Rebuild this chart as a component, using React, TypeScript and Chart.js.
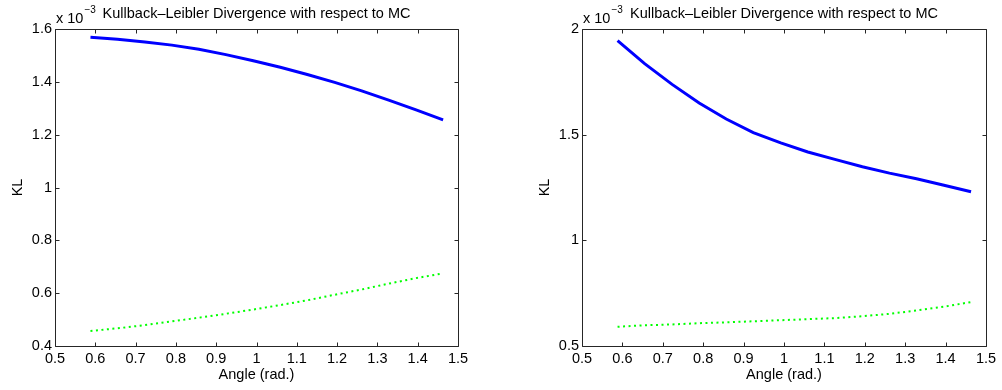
import React, { useEffect, useRef } from "react";
import { Chart, registerables } from "chart.js";

Chart.register(...registerables);

const angles = [0.588, 0.655, 0.723, 0.79, 0.857, 0.924, 0.992, 1.059, 1.126, 1.194, 1.261, 1.328, 1.396, 1.463];

const leftSolid = [1.569, 1.561, 1.551, 1.539, 1.523, 1.503, 1.48, 1.455, 1.428, 1.398, 1.366, 1.331, 1.294, 1.256];
const leftDotted = [0.457, 0.467, 0.479, 0.493, 0.507, 0.522, 0.538, 0.555, 0.573, 0.594, 0.614, 0.636, 0.657, 0.675];

const rightSolid = [1.945, 1.836, 1.738, 1.65, 1.574, 1.51, 1.461, 1.418, 1.383, 1.348, 1.318, 1.291, 1.261, 1.23];
const rightDotted = [0.591, 0.598, 0.602, 0.608, 0.612, 0.617, 0.622, 0.627, 0.632, 0.641, 0.652, 0.668, 0.686, 0.708];

const titleText = "Kullback\u2013Leibler Divergence with respect to MC";
const exponentBase = "x 10";
const exponentPower = "\u22123";
const xTitle = "Angle (rad.)";
const yTitle = "KL";

const FONT = "'Liberation Sans', Arial, Helvetica, sans-serif";
const FS = 14.5;

type PanelProps = {
  solid: number[];
  dotted: number[];
  yMin: number;
  yMax: number;
  yStep: number;
  yAxisWidth: number;
  rightPad: number;
  yTitlePad: number;
};

const fmt = (v: number | string) => {
  const n = Number(v);
  return String(Number(n.toFixed(2)));
};

function Panel(p: PanelProps) {
  const ref = useRef<HTMLCanvasElement | null>(null);
  useEffect(() => {
    if (!ref.current) return;
    const framePlugin = {
      id: "matlabFrame",
      afterDraw(chart: any) {
        const ctx = chart.ctx;
        const a = chart.chartArea;
        const xs = chart.scales.x;
        const ys = chart.scales.y;
        ctx.save();
        ctx.strokeStyle = "#262626";
        ctx.lineWidth = 1;
        ctx.beginPath();
        const L = Math.round(a.left) + 0.5;
        const R = Math.round(a.right) + 0.5;
        const T = Math.round(a.top) + 0.5;
        const B = Math.round(a.bottom) + 0.5;
        ctx.rect(L, T, R - L, B - T);
        const tl = 4;
        xs.ticks.forEach((t: any) => {
          const px = Math.round(xs.getPixelForValue(t.value)) + 0.5;
          ctx.moveTo(px, B);
          ctx.lineTo(px, B - tl);
          ctx.moveTo(px, T);
          ctx.lineTo(px, T + tl);
        });
        ys.ticks.forEach((t: any) => {
          const py = Math.round(ys.getPixelForValue(t.value)) + 0.5;
          ctx.moveTo(L, py);
          ctx.lineTo(L + tl, py);
          ctx.moveTo(R, py);
          ctx.lineTo(R - tl, py);
        });
        ctx.stroke();
        // title and exponent
        ctx.fillStyle = "#000";
        ctx.textBaseline = "alphabetic";
        ctx.font = `${FS}px ${FONT}`;
        ctx.textAlign = "center";
        ctx.fillText(titleText, (a.left + a.right) / 2, 18);
        ctx.textAlign = "left";
        ctx.fillText(exponentBase, a.left + 1, 23);
        const w = ctx.measureText(exponentBase).width;
        ctx.font = `10px ${FONT}`;
        ctx.fillText(exponentPower, a.left + 1 + w + 1, 13);
        ctx.restore();
      },
    };
    const chart = new Chart(ref.current, {
      type: "line",
      data: {
        datasets: [
          {
            data: angles.map((x, i) => ({ x, y: p.solid[i] })),
            borderColor: "#0000ff",
            borderWidth: 3,
            pointRadius: 0,
            tension: 0,
            fill: false,
          },
          {
            data: angles.map((x, i) => ({ x, y: p.dotted[i] })),
            borderColor: "#00ff00",
            borderWidth: 2,
            borderDash: [2, 3.5],
            pointRadius: 0,
            tension: 0,
            fill: false,
          },
        ],
      },
      options: {
        animation: false,
        responsive: false,
        devicePixelRatio: 1,
        layout: { padding: { left: 0, right: p.rightPad, top: 29, bottom: 0 } },
        plugins: { legend: { display: false }, title: { display: false }, tooltip: { enabled: false } },
        scales: {
          x: {
            type: "linear",
            min: 0.5,
            max: 1.5,
            grid: { display: false, drawTicks: false },
            border: { display: false },
            ticks: { stepSize: 0.1, color: "#000", font: { family: FONT, size: FS }, padding: 4, maxRotation: 0, autoSkip: false, callback: fmt },
            title: { display: true, text: xTitle, color: "#000", font: { family: FONT, size: FS }, padding: { top: 0, bottom: 6 } },
            afterFit: (s: any) => { s.height = 44; },
          },
          y: {
            type: "linear",
            min: p.yMin,
            max: p.yMax,
            grid: { display: false, drawTicks: false },
            border: { display: false },
            ticks: { stepSize: p.yStep, color: "#000", font: { family: FONT, size: FS }, padding: 3, autoSkip: false, callback: fmt },
            title: { display: true, text: yTitle, color: "#000", font: { family: FONT, size: FS }, padding: { top: p.yTitlePad, bottom: 0 } },
            afterFit: (s: any) => { s.width = p.yAxisWidth; },
          },
        },
      },
      plugins: [framePlugin],
    } as any);
    return () => chart.destroy();
  }, []);
  return <canvas ref={ref} width={501} height={390} style={{ width: 501, height: 390, display: "block" }} />;
}

export default function App() {
  return (
    <div style={{ position: "absolute", left: 0, top: 0, width: 1002, height: 390, background: "#fff", display: "flex" }}>
      <Panel solid={leftSolid} dotted={leftDotted} yMin={0.4} yMax={1.6} yStep={0.2} yAxisWidth={55} rightPad={43} yTitlePad={9} />
      <Panel solid={rightSolid} dotted={rightDotted} yMin={0.5} yMax={2} yStep={0.5} yAxisWidth={81} rightPad={16} yTitlePad={35} />
    </div>
  );
}
